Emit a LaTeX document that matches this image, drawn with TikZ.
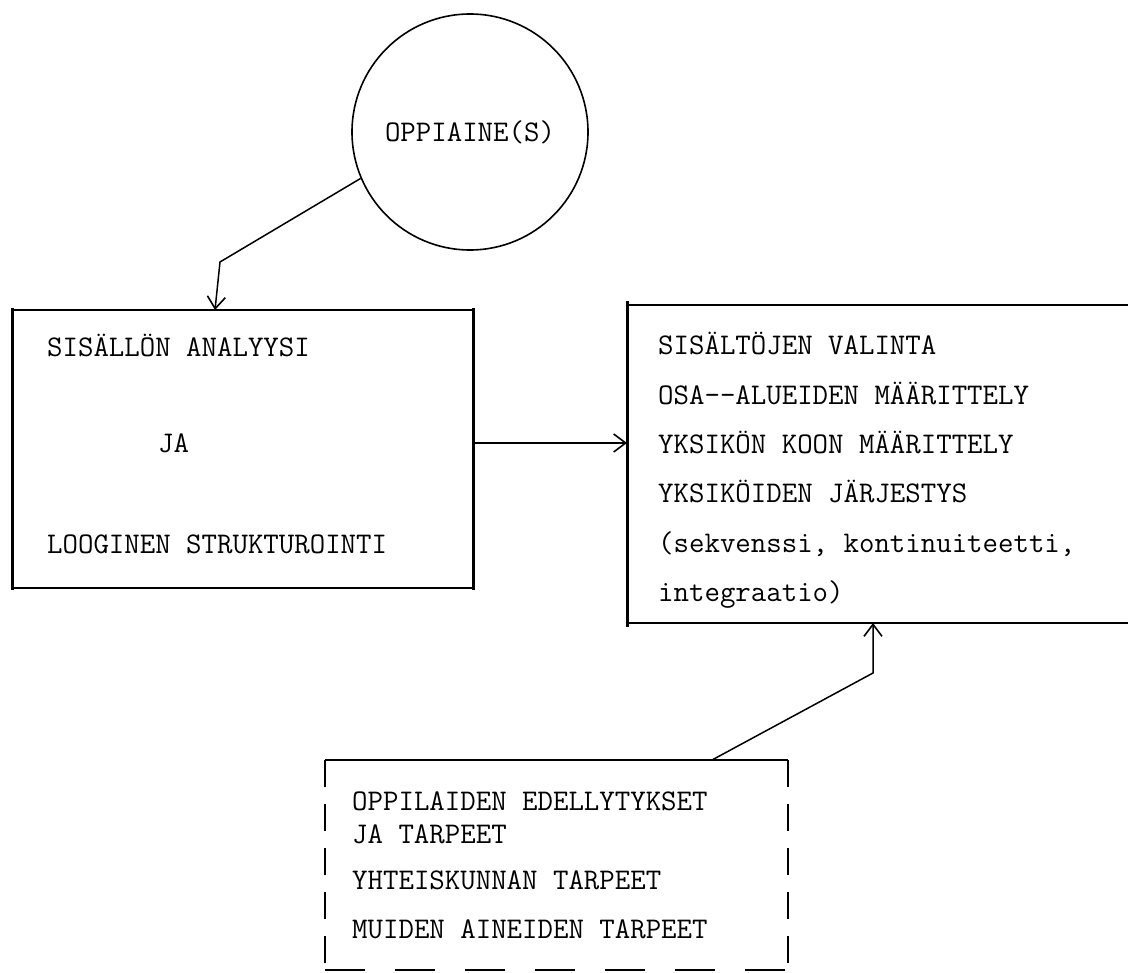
\documentclass[tikz,border=0pt]{standalone}
\usetikzlibrary{arrows.meta}
\begin{document}
\begin{tikzpicture}[x=1pt,y=-1pt,
  thinedge/.style={line width=1.3pt},
  thickedge/.style={line width=3pt},
  dashedge/.style={line width=2.6pt, dash pattern=on 27pt off 17pt},
  bottomdash/.style={line width=2pt, dash pattern=on 40pt off 30pt},
  arr/.style={line width=1.5pt, -{Straight Barb[length=12pt,width=18pt,line width=1.6pt]}},
  txt/.style={anchor=base west, inner sep=0pt, font=\ttfamily\fontsize{30}{36}\selectfont},
  frame/.style={inner sep=0pt, outer sep=0pt, anchor=north west}]
\useasboundingbox (0,0) rectangle (1128,973);

% circle
\node[circle, draw, line width=1.6pt, minimum size=236pt, inner sep=0pt,
      font=\ttfamily\fontsize{30}{36}\selectfont] (c) at (470,132) {OPPIAINE(S)};

% left box
\node[frame, minimum width=461pt, minimum height=278pt] (lbox) at (12,310) {};
\draw[thinedge] (lbox.north west) -- (lbox.north east);
\draw[thinedge] (lbox.south west) -- (lbox.south east);
\draw[thickedge] ([yshift=2pt]lbox.north west) -- ([yshift=-2pt]lbox.south west);
\draw[thickedge] ([yshift=2pt]lbox.north east) -- ([yshift=-2pt]lbox.south east);
\node[txt] (l1) at (47,357) {SISÄLLÖN ANALYYSI};
\node[txt] (l2) at (158,453) {JA};
\node[txt] (l3) at (47,554) {LOOGINEN STRUKTUROINTI};

% right box
\node[frame, minimum width=501pt, minimum height=318pt] (rbox) at (627,305) {};
\draw[thinedge] (rbox.north west) -- (rbox.north east);
\draw[thinedge] (rbox.south west) -- (rbox.south east);
\draw[thickedge] ([yshift=4pt]rbox.north west) -- ([yshift=-4pt]rbox.south west);
\node[txt] (r1) at (658,355) {SISÄLTÖJEN VALINTA};
\node[txt] (r2) at (658,405) {OSA-{}-ALUEIDEN MÄÄRITTELY};
\node[txt] (r3) at (658,454) {YKSIKÖN KOON MÄÄRITTELY};
\node[txt] (r4) at (658,503) {YKSIKÖIDEN JÄRJESTYS};
\node[txt] (r5) at (658,552) {(sekvenssi, kontinuiteetti,};
\node[txt] (r6) at (658,601) {integraatio)};

% dashed box
\node[frame, minimum width=463pt, minimum height=210pt] (dbox) at (325,760) {};
\coordinate (s3) at (712,760);
\draw[thinedge] (dbox.north west) -- (s3);
\draw[line width=2.4pt] (s3) -- (dbox.north east);
\draw[dashedge] (dbox.north east) -- (dbox.south east);
\draw[dashedge] (dbox.north west) -- (dbox.south west);
\draw[bottomdash] (dbox.south west) -- (dbox.south east);
\node[txt] (d1) at (352,810) {OPPILAIDEN EDELLYTYKSET};
\node[txt] (d2) at (352,843) {JA TARPEET};
\node[txt] (d3) at (352,889) {YHTEISKUNNAN TARPEET};
\node[txt] (d4) at (352,938) {MUIDEN AINEIDEN TARPEET};

% connectors
\coordinate (b1) at (220,262);
\coordinate (t1) at (215,310);
\draw[arr] (c.203) -- (b1) -- (t1);

\coordinate (a2) at (0,443);
\draw[arr] (lbox.east |- a2) -- (rbox.west |- a2);

\coordinate (b3) at (873,673);
\draw[arr] (s3) -- (b3) -- (b3 |- rbox.south);
\end{tikzpicture}
\end{document}
